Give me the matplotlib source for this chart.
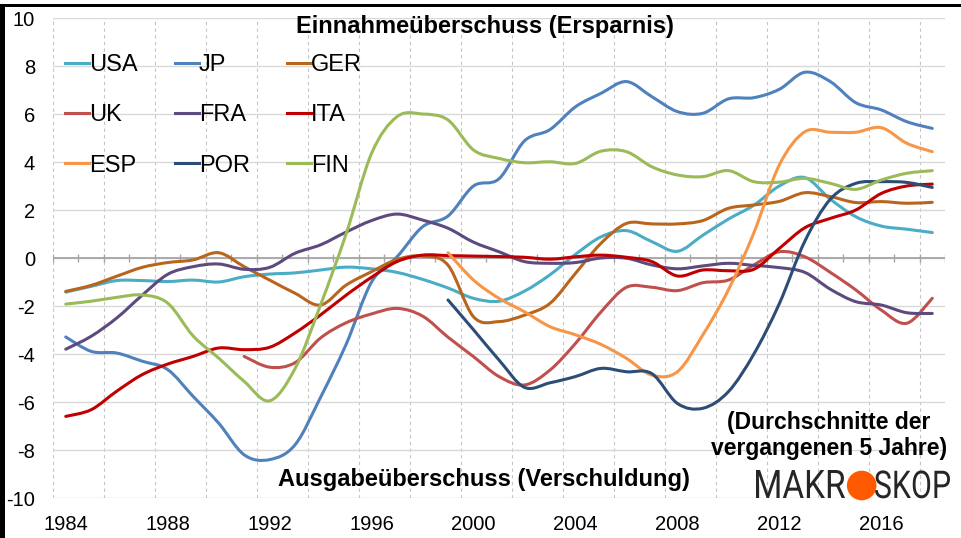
import numpy as np
import matplotlib
matplotlib.use("Agg")
import matplotlib.pyplot as plt
from matplotlib.path import Path
from matplotlib.patches import PathPatch, Rectangle, Circle
from matplotlib.lines import Line2D
from matplotlib.textpath import TextPath
from matplotlib.font_manager import FontProperties
import matplotlib.transforms as mtransforms

plt.rcParams["font.family"] = ["Liberation Sans", "DejaVu Sans"]
plt.rcParams["axes.unicode_minus"] = False

# 5 year averages
years = list(range(1984, 2019))

usa = [-1.42, -1.18, -0.94, -0.94, -0.98, -0.92, -1.0, -0.78, -0.67, -0.62,
       -0.5, -0.38, -0.45, -0.6, -0.89, -1.25, -1.68, -1.8, -1.38, -0.7,
       0.15, 0.88, 1.14, 0.68, 0.28, 0.95, 1.62, 2.2, 3.0, 3.35,
       2.45, 1.72, 1.33, 1.2, 1.06]
jp = [-3.29, -3.89, -3.96, -4.3, -4.65, -5.77, -6.88, -8.2, -8.4, -7.78,
      -5.8, -3.6, -1.0, 0.05, 1.3, 1.75, 3.0, 3.3, 4.88, 5.35,
      6.3, 6.86, 7.35, 6.72, 6.1, 6.03, 6.63, 6.68, 7.03, 7.74,
      7.35, 6.47, 6.17, 5.68, 5.4]
ger = [-1.39, -1.14, -0.76, -0.39, -0.19, -0.08, 0.22, -0.36, -0.92, -1.47,
       -1.96, -1.13, -0.57, -0.06, 0.08, -0.3, -2.45, -2.65, -2.38, -1.89,
       -0.64, 0.61, 1.44, 1.42, 1.42, 1.56, 2.07, 2.21, 2.36, 2.72,
       2.56, 2.31, 2.35, 2.28, 2.32]
uk_start = 1991
uk = [-4.1, -4.55, -4.36, -3.33, -2.7, -2.33, -2.1, -2.42, -3.3, -4.11,
      -4.94, -5.29, -4.67, -3.56, -2.25, -1.22, -1.22, -1.36, -1.03, -0.92,
      -0.29, 0.26, 0.05, -0.6, -1.33, -2.17, -2.72, -1.68]
fra = [-3.8, -3.26, -2.5, -1.55, -0.68, -0.36, -0.25, -0.47, -0.39, 0.2,
       0.55, 1.08, 1.56, 1.83, 1.58, 1.24, 0.66, 0.26, -0.15, -0.22,
       -0.19, 0.0, -0.01, -0.29, -0.45, -0.33, -0.22, -0.31, -0.4, -0.6,
       -1.3, -1.82, -1.96, -2.28, -2.31]
ita = [-6.6, -6.32, -5.55, -4.86, -4.42, -4.1, -3.75, -3.82, -3.72, -3.12,
       -2.37, -1.55, -0.8, -0.15, 0.12, 0.1, 0.08, 0.06, 0.03, -0.05,
       0.05, 0.12, 0.03, -0.15, -0.75, -0.5, -0.53, -0.47, 0.4, 1.26,
       1.65, 2.0, 2.69, 3.0, 3.08]
esp_start = 1999
esp = [0.22, -0.92, -1.68, -2.24, -2.86, -3.2, -3.6, -4.18, -4.88, -4.74,
       -3.2, -1.33, 1.05, 3.88, 5.26, 5.24, 5.24, 5.43, 4.78, 4.43]
por_start = 1999
por = [-1.75, -2.99, -4.25, -5.39, -5.2, -4.94, -4.6, -4.74, -4.82, -6.06,
       -6.26, -5.57, -4.0, -1.9, 0.7, 2.45, 3.11, 3.18, 3.15, 2.94]
fin = [-1.92, -1.8, -1.64, -1.54, -1.88, -3.25, -4.17, -5.14, -5.95, -4.6,
       -1.95, 1.0, 4.36, 5.89, 6.0, 5.75, 4.5, 4.15, 3.97, 4.01,
       3.94, 4.45, 4.43, 3.8, 3.46, 3.39, 3.64, 3.18, 3.16, 3.32,
       3.11, 2.86, 3.25, 3.53, 3.64]

series = [
    ("USA", 1984, usa, "#4BACC6"),
    ("JP", 1984, jp, "#4F81BD"),
    ("GER", 1984, ger, "#B9651D"),
    ("UK", uk_start, uk, "#C0504D"),
    ("FRA", 1984, fra, "#5D4A7E"),
    ("ITA", 1984, ita, "#C00000"),
    ("ESP", esp_start, esp, "#F79646"),
    ("POR", por_start, por, "#2C4D75"),
    ("FIN", 1984, fin, "#9BBB59"),
]
year_ticks = list(range(1984, 2017, 4))


def smooth_path(xs, ys):
    # excel style smoothed line: catmull-rom segments as cubic beziers
    pts = np.column_stack([xs, ys]).astype(float)
    n = len(pts)
    verts = [pts[0]]
    codes = [Path.MOVETO]
    for i in range(n - 1):
        p0 = pts[max(i - 1, 0)]
        p1 = pts[i]
        p2 = pts[i + 1]
        p3 = pts[min(i + 2, n - 1)]
        verts += [p1 + (p2 - p0) / 6, p2 - (p3 - p1) / 6, p2]
        codes += [Path.CURVE4] * 3
    return Path(verts, codes)


W, H = 961, 538
fig = plt.figure(figsize=(W / 100, H / 100), dpi=100)
ax = fig.add_axes([53 / W, 40 / H, 892 / W, 480 / H])

ax.set_xlim(1983.5, 2018.5)
ax.set_ylim(-10, 10)

# grid
ax.set_yticks(range(-10, 11, 2))
ax.set_xticks(year_ticks)
ax.set_xticks(np.arange(1983.5, 2018, 2), minor=True)
ax.grid(axis="y", which="major", color="#D9D9D9", lw=1)
ax.grid(axis="x", which="minor", color="#C4C4C4", lw=0.8, ls=(0, (3, 3)))
ax.tick_params(axis="both", which="both", length=0)
ax.tick_params(axis="y", labelsize=14.5, pad=13)
ax.tick_params(axis="x", labelsize=14.5, pad=12)
for s in ax.spines.values():
    s.set_visible(False)
ax.set_axisbelow(True)

# zero line with the category tick marks
ax.axhline(0, color="#A6A6A6", lw=1.3, zorder=1)
ax.vlines(np.arange(1983.5, 2019, 1), -0.17, 0.17, color="#A6A6A6", lw=1, zorder=1)

handles = {}
for name, start, vals, col in series:
    xs = list(range(start, start + len(vals)))
    patch = PathPatch(smooth_path(xs, vals), fill=False, edgecolor=col, lw=2.2,
                      capstyle="round", joinstyle="round", zorder=3)
    ax.add_patch(patch)
    handles[name] = Line2D([], [], color=col, lw=2.2)

# legend is row major in the original, matplotlib fills columns
order = ["USA", "UK", "ESP", "JP", "FRA", "POR", "GER", "ITA", "FIN"]
ax.legend([handles[k] for k in order], order, ncol=3, loc="upper left",
          bbox_to_anchor=(0.0135, 0.925), frameon=False, fontsize=17,
          handlelength=1.0, handletextpad=0.0, columnspacing=1.6,
          labelspacing=1.2, borderpad=0, borderaxespad=0)

# texts
fig.text(485 / W, 1 - 33 / H, "Einnahmeüberschuss (Ersparnis)", ha="center",
         va="baseline", fontsize=17, fontweight="bold")
fig.text(484 / W, 1 - 486 / H, "Ausgabeüberschuss (Verschuldung)", ha="center",
         va="baseline", fontsize=17, fontweight="bold")
fig.text(829 / W, 1 - 429 / H, "(Durchschnitte der", ha="center",
         va="baseline", fontsize=16.5, fontweight="bold")
fig.text(829 / W, 1 - 455 / H, "vergangenen 5 Jahre)", ha="center",
         va="baseline", fontsize=16.5, fontweight="bold")

# MAKROSKOP logo, letters squeezed to the original box
logo_font = FontProperties(family=["Roboto", "DejaVu Sans"], weight="normal")


def logo_word(word, left, right, base, cap):
    tp = TextPath((0, 0), word, size=1, prop=logo_font)
    ext = tp.get_extents()
    sx = (right - left) / ext.width
    sy = cap / ext.height
    tr = mtransforms.Affine2D().translate(-ext.x0, 0).scale(sx / 100, sy / 100)
    tr = tr.translate(left / 100, (H - base) / 100)
    fig.add_artist(PathPatch(tp, transform=tr + fig.dpi_scale_trans,
                             facecolor="#262626", lw=0))


logo_word("MAKR", 756, 845, 498, 28)
logo_word("SKOP", 875, 950, 498, 28)
fig.add_artist(Circle((861.7 / 100, (H - 485.5) / 100), 0.148,
                      transform=fig.dpi_scale_trans, color="#FF5A00", lw=0))

# black frame top and left
fig.add_artist(Rectangle((0, 1 - 7 / H), 1, 3 / H, transform=fig.transFigure,
                         color="black", lw=0))
fig.add_artist(Rectangle((0, 0), 4.5 / W, 1 - 4 / H, transform=fig.transFigure,
                         color="black", lw=0))

fig.savefig("out.png", dpi=100)
